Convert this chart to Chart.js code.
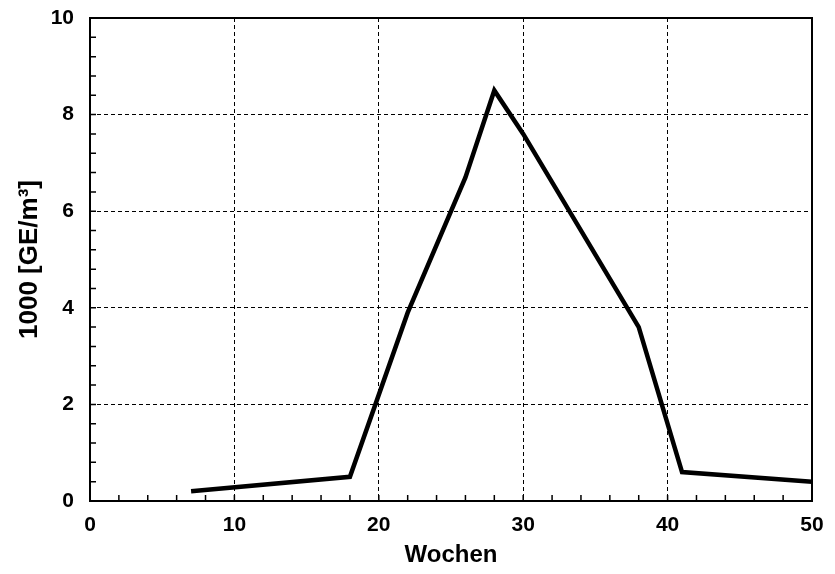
<!DOCTYPE html>
<html>
<head>
<meta charset="utf-8">
<script src="https://cdn.jsdelivr.net/npm/chart.js@4"></script>
<style>
  body { margin: 0; background: #fff; }
</style>
</head>
<body>
<canvas id="chart" width="835" height="574"></canvas>
<script>
const weeks = [7, 18, 22, 26, 28, 30, 38, 41, 50];
const values = [0.2, 0.5, 3.9, 6.7, 8.5, 7.6, 3.6, 0.6, 0.4];
const xTitle = 'Wochen';
const yTitle = '1000 [GE/m³]';

const font = 'Liberation Sans, Arial, sans-serif';

// frame + inward minor ticks
const framePlugin = {
  id: 'frame',
  afterDraw(chart) {
    const { ctx, chartArea: a, scales } = chart;
    ctx.save();
    ctx.strokeStyle = '#000';
    ctx.lineWidth = 1.5;
    ctx.beginPath();
    for (let v = 2; v < 50; v += 2) {
      const px = scales.x.getPixelForValue(v);
      ctx.moveTo(px, a.bottom);
      ctx.lineTo(px, a.bottom - 6);
    }
    for (let i = 1; i < 25; i++) {
      const py = scales.y.getPixelForValue(i * 0.4);
      ctx.moveTo(a.left, py);
      ctx.lineTo(a.left + 6, py);
    }
    ctx.stroke();
    ctx.lineWidth = 2;
    ctx.strokeRect(a.left, a.top, a.right - a.left, a.bottom - a.top);
    ctx.restore();
  }
};

new Chart(document.getElementById('chart').getContext('2d'), {
  type: 'line',
  data: {
    datasets: [{
      data: weeks.map((w, i) => ({ x: w, y: values[i] })),
      borderColor: '#000',
      borderWidth: 4.5,
      borderJoinStyle: 'miter',
      pointRadius: 0,
      tension: 0,
      fill: false
    }]
  },
  options: {
    responsive: false,
    animation: false,
    layout: { padding: { left: 0, right: 23, top: 18, bottom: 0 } },
    plugins: { legend: { display: false }, tooltip: { enabled: false } },
    scales: {
      x: {
        type: 'linear',
        min: 0,
        max: 50,
        afterFit: s => { s.height = 73; s.paddingLeft = 0; s.paddingRight = 0; },
        ticks: { stepSize: 10, color: '#000', padding: 12, font: { family: font, size: 21, weight: 'bold' } },
        grid: { color: '#000', lineWidth: 1, drawTicks: false, tickLength: 0 },
        border: { display: false, dash: [4, 3] },
        title: { display: true, text: xTitle, color: '#000', padding: { top: 0, bottom: 4 }, font: { family: font, size: 24, weight: 'bold' } }
      },
      y: {
        min: 0,
        max: 10,
        afterFit: s => { s.width = 90; s.paddingTop = 0; s.paddingBottom = 0; },
        ticks: { stepSize: 2, color: '#000', padding: 16, font: { family: font, size: 21, weight: 'bold' } },
        grid: { color: '#000', lineWidth: 1, drawTicks: false, tickLength: 0 },
        border: { display: false, dash: [4, 3] },
        title: { display: true, text: yTitle, color: '#000', padding: { top: 14, bottom: 0 }, font: { family: font, size: 26, weight: 'bold' } }
      }
    }
  },
  plugins: [framePlugin]
});
</script>
</body>
</html>
